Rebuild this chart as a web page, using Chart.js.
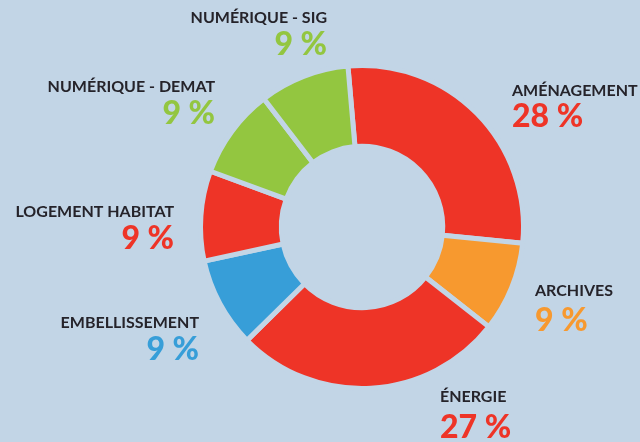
<!DOCTYPE html>
<html>
<head>
<meta charset="utf-8">
<script src="https://cdn.jsdelivr.net/npm/chart.js@4/dist/chart.umd.min.js"></script>
<style>
  html, body { margin: 0; padding: 0; background: #c2d5e6; }
  #wrap { width: 640px; height: 442px; position: relative; }
</style>
</head>
<body>
<div id="wrap"><canvas id="c" width="640" height="442"></canvas></div>
<script>
// Budget shares by domain (percent)
const categories = ['AMÉNAGEMENT', 'ARCHIVES', 'ÉNERGIE', 'EMBELLISSEMENT', 'LOGEMENT HABITAT', 'NUMÉRIQUE - DEMAT', 'NUMÉRIQUE - SIG'];
const shares = [28, 9, 27, 9, 9, 9, 9];
const sliceColors = ['#ee3427', '#f7992f', '#ee3427', '#379ed8', '#ee3427', '#93c640', '#93c640'];

const BG = '#c2d5e6';

// Where each caption sits: anchor x, text alignment, baseline of the name and of the percentage
const captionLayout = [
  { x: 512, align: 'left',  nameY: 96,  pctY: 127 },
  { x: 535, align: 'left',  nameY: 296, pctY: 331 },
  { x: 440, align: 'left',  nameY: 402, pctY: 438 },
  { x: 199, align: 'right', nameY: 328, pctY: 360 },
  { x: 174, align: 'right', nameY: 217, pctY: 249 },
  { x: 215, align: 'right', nameY: 92,  pctY: 124 },
  { x: 327, align: 'right', nameY: 23,  pctY: 55 }
];

const captions = {
  id: 'captions',
  afterDraw(chart) {
    const ctx = chart.ctx;
    ctx.save();
    categories.forEach((name, i) => {
      const lay = captionLayout[i];
      ctx.textAlign = lay.align;
      ctx.textBaseline = 'alphabetic';
      ctx.fillStyle = '#25232a';
      ctx.font = '700 16px Lato';
      ctx.fillText(name, lay.x, lay.nameY);
      ctx.fillStyle = sliceColors[i];
      ctx.font = '900 32px Lato';
      ctx.fillText(shares[i] + ' %', lay.x, lay.pctY);
    });
    ctx.restore();
  }
};

new Chart(document.getElementById('c'), {
  type: 'doughnut',
  data: {
    labels: categories,
    datasets: [{
      data: shares,
      backgroundColor: sliceColors,
      borderColor: BG,
      borderWidth: 5,
      hoverOffset: 0
    }]
  },
  options: {
    responsive: false,
    animation: false,
    cutout: '50%',
    rotation: -5,
    layout: { padding: { left: 198, right: 114, top: 63, bottom: 51 } },
    plugins: {
      legend: { display: false },
      tooltip: { enabled: false }
    }
  },
  plugins: [captions]
});
</script>
</body>
</html>
